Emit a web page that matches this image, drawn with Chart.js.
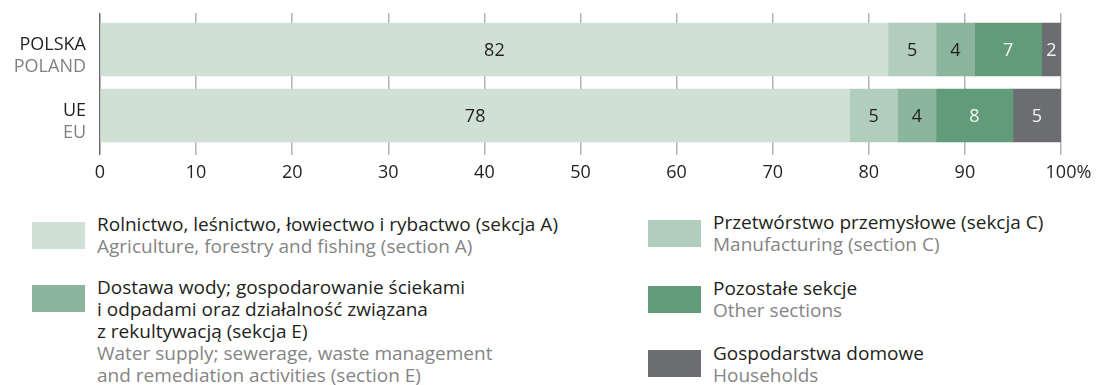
<!DOCTYPE html>
<html>
<head>
<meta charset="utf-8">
<script src="https://cdn.jsdelivr.net/npm/chart.js@4/dist/chart.umd.min.js"></script>
<style>
  body { margin: 0; background: #fff; font-family: "Open Sans", sans-serif; }
  #wrap { position: relative; width: 1098px; height: 385px; }
  #chart { position: absolute; left: 0; top: 0; }
  .sw { position: absolute; width: 53px; height: 27px; }
  .txt { position: absolute; font-size: 19px; line-height: 22px; white-space: nowrap; }
  .pl { color: #231f20; }
  .en { color: #858585; }
</style>
</head>
<body>
<div id="wrap">
  <canvas id="chart" width="1098" height="200"></canvas>
  <div id="legend"></div>
</div>
<script>
// rows (Polish / English)
const rowsPl = ['POLSKA', 'UE'];
const rowsEn = ['POLAND', 'EU'];

// shares in %
const agriculture = [82, 78];
const manufacturing = [5, 5];
const waterSupply = [4, 4];
const otherSections = [7, 8];
const households = [2, 5];

const xTicks = [0, 10, 20, 30, 40, 50, 60, 70, 80, 90, 100];

const seriesPl = [
    'Rolnictwo, leśnictwo, łowiectwo i rybactwo (sekcja A)',
    'Przetwórstwo przemysłowe (sekcja C)',
    'Dostawa wody; gospodarowanie ściekami\ni odpadami oraz działalność związana\nz rekultywacją (sekcja E)',
    'Pozostałe sekcje',
    'Gospodarstwa domowe'
];
const seriesEn = [
    'Agriculture, forestry and fishing (section A)',
    'Manufacturing (section C)',
    'Water supply; sewerage, waste management\nand remediation activities (section E)',
    'Other sections',
    'Households'
];
const colors = ['#d0e0d5', '#b1cdbc', '#8bb59d', '#619b7a', '#6c6d71'];
const labelColors = ['#231f20', '#231f20', '#231f20', '#f4f4f4', '#f4f4f4'];

const allValues = [agriculture, manufacturing, waterSupply, otherSections, households];

// y is a linear index axis, so each point carries its row number
const datasets = allValues.map((vals, i) => ({
    label: seriesPl[i],
    data: vals.map((v, j) => ({ x: v, y: j })),
    backgroundColor: colors[i],
    borderWidth: 0,
    barThickness: 53
}));

// two-line row labels on the left
const rowLabels = {
    id: 'rowLabels',
    afterDraw(chart) {
        const ctx = chart.ctx;
        const y = chart.scales.y;
        ctx.save();
        ctx.font = '18px "Open Sans"';
        ctx.textAlign = 'right';
        ctx.textBaseline = 'alphabetic';
        rowsPl.forEach((t, i) => {
            const py = y.getPixelForValue(i);
            ctx.fillStyle = '#231f20';
            ctx.fillText(t, 86, py);
            ctx.fillStyle = '#808080';
            ctx.fillText(rowsEn[i], 86, py + 22);
        });
        ctx.restore();
    }
};

// values written in the middle of each segment
const barValues = {
    id: 'barValues',
    afterDatasetsDraw(chart) {
        const ctx = chart.ctx;
        ctx.save();
        ctx.font = '18px "Open Sans"';
        ctx.textAlign = 'center';
        ctx.textBaseline = 'middle';
        chart.data.datasets.forEach((ds, i) => {
            chart.getDatasetMeta(i).data.forEach((bar, j) => {
                const cx = (bar.x + bar.base) / 2;
                ctx.fillStyle = labelColors[i];
                ctx.fillText(ds.data[j].x, cx, bar.y + 1);
            });
        });
        ctx.restore();
    }
};

// the last tick keeps "100" centred on its line, with "%" hanging after it
const percentSign = {
    id: 'percentSign',
    afterDraw(chart) {
        const x = chart.scales.x;
        const ctx = chart.ctx;
        ctx.save();
        ctx.font = '18px "Open Sans"';
        ctx.fillStyle = '#231f20';
        ctx.textAlign = 'left';
        ctx.textBaseline = 'middle';
        const px = x.getPixelForValue(100) + ctx.measureText('100').width / 2;
        ctx.fillText('%', px, x.top + 7 + 10.8);
        ctx.restore();
    }
};

new Chart(document.getElementById('chart'), {
    type: 'bar',
    data: { labels: rowsPl, datasets: datasets },
    options: {
        indexAxis: 'y',
        responsive: false,
        animation: false,
        layout: { padding: { left: 100, right: 37, top: 13, bottom: 0 } },
        plugins: { legend: { display: false }, tooltip: { enabled: false } },
        scales: {
            x: {
                stacked: true,
                min: 0,
                max: 100,
                afterBuildTicks(scale) { scale.ticks = xTicks.map(v => ({ value: v })); },
                afterFit(scale) { scale.height = 45; },
                border: { display: false },
                grid: {
                    drawTicks: false,
                    lineWidth: 1.5,
                    color: ctx => ctx.index === 0 ? '#6a6a6a' : '#b4b4b4'
                },
                ticks: {
                    padding: 7,
                    color: '#231f20',
                    font: { family: '"Open Sans"', size: 18 }
                }
            },
            y: {
                type: 'linear',
                stacked: true,
                reverse: true,
                offset: false,
                min: -0.553,
                max: 1.598,
                display: false
            }
        }
    },
    plugins: [rowLabels, barValues, percentSign]
});

// legend below the chart
const legendPos = [
    { x: 32, top: 213, sw: 222 },
    { x: 648, top: 211, sw: 220 },
    { x: 32, top: 276, sw: 285 },
    { x: 648, top: 277, sw: 286 },
    { x: 648, top: 342, sw: 350 }
];
const legend = document.getElementById('legend');
seriesPl.forEach((name, i) => {
    const p = legendPos[i];
    const sw = document.createElement('div');
    sw.className = 'sw';
    sw.style.left = p.x + 'px';
    sw.style.top = p.sw + 'px';
    sw.style.background = colors[i];
    legend.appendChild(sw);
    const txt = document.createElement('div');
    txt.className = 'txt';
    txt.style.left = (p.x + 65) + 'px';
    txt.style.top = p.top + 'px';
    txt.innerHTML = name.split('\n').map(s => '<div class="pl">' + s + '</div>').join('') +
        seriesEn[i].split('\n').map(s => '<div class="en">' + s + '</div>').join('');
    legend.appendChild(txt);
});
</script>
</body>
</html>
